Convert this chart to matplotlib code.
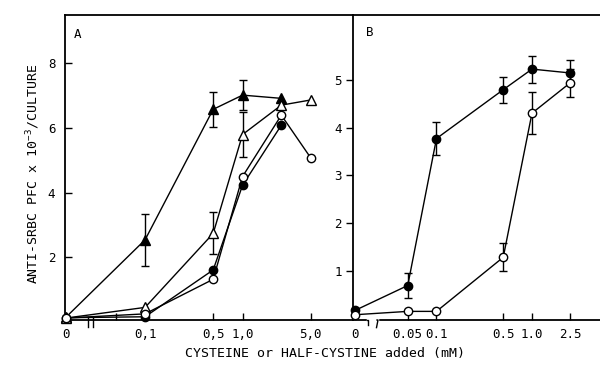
import numpy as np
import matplotlib
matplotlib.use('Agg')
import matplotlib.pyplot as plt

plt.rcParams['font.family'] = ['DejaVu Sans Mono']
plt.rcParams['mathtext.default'] = 'regular'

# ---- data ----
# panel A
conc_a = [0, 0.1, 0.5, 1.0, 2.5, 5.0]
filltri_a = [0.15, 2.54, 6.58, 7.02, 6.92]
filltri_a_err = [0, 0.81, 0.55, 0.47, 0]
opentri_a = [0.12, 0.45, 2.74, 5.80, 6.71, 6.87]
opentri_a_err = [0, 0, 0.65, 0.70, 0, 0]
opencirc_a = [0.12, 0.25, 1.32, 4.50, 6.40, 5.08]
fillcirc_a = [0.13, 0.16, 1.61, 4.23, 6.09]

# panel B
conc_b = [0, 0.05, 0.1, 0.5, 1.0, 2.5]
fill_b = [0.18, 0.70, 3.77, 4.79, 5.22, 5.14]
fill_b_err = [0, 0.26, 0.34, 0.27, 0.28, 0.26]
open_b = [0.09, 0.16, 0.16, 1.29, 4.30, 4.93]
open_b_err = [0, 0, 0, 0.29, 0.44, 0.29]

xticks_a = [0, 0.05, 0.1, 0.5, 1.0, 5.0]
xticklabels_a = ['0', '', '0,1', '0,5', '1,0', '5,0']
xticks_b = [0, 0.05, 0.1, 0.5, 1.0, 2.5]
xticklabels_b = ['0', '0.05', '0.1', '0.5', '1.0', '2.5']


# log axis with the zero dose squeezed in on the left
def broken_log(zero):
    T = 0.02
    lt = np.log10(T)

    def fwd(x):
        x = np.asarray(x, float)
        return np.where(x >= T, np.log10(np.clip(x, T, None)),
                        zero + x / T * (lt - zero))

    def inv(y):
        y = np.asarray(y, float)
        return np.where(y >= lt, 10.0 ** y, (y - zero) / (lt - zero) * T)
    return fwd, inv


fig = plt.figure(figsize=(6, 3.71), dpi=100)
bot = 1 - 320 / 371.
top = 1 - 15 / 371.
axA = fig.add_axes([65 / 600., bot, 288 / 600., top - bot])
axB = fig.add_axes([353 / 600., bot, 247 / 600., top - bot])

lw = 1.0
fs = 9
ekw = dict(fmt='none', ecolor='k', elinewidth=1.0, capsize=2.8, capthick=1.0, zorder=2)


def plot_series(ax, x, y, err, marker, filled, ms):
    x = np.asarray(x[:len(y)], float)
    y = np.asarray(y, float)
    err = np.asarray(err, float)
    m = err > 0
    ax.errorbar(x[m], y[m], yerr=err[m], **ekw)
    ax.plot(x, y, color='k', lw=lw, marker=marker, ms=ms,
            mfc='k' if filled else 'white', mec='k', mew=1.0, zorder=3,
            clip_on=False)


# ---- panel A ----
fA, iA = broken_log(-1.81)
axA.set_xscale('function', functions=(fA, iA))
axA.set_xlim(float(iA(-1.821)), float(iA(1.133)))
axA.set_ylim(0.06, 9.5)
plot_series(axA, conc_a, filltri_a, filltri_a_err, '^', True, 7)
plot_series(axA, conc_a, opentri_a, opentri_a_err, '^', False, 7)
plot_series(axA, conc_a, fillcirc_a, [0] * 5, 'o', True, 6)
plot_series(axA, conc_a, opencirc_a, [0] * 6, 'o', False, 6)
axA.set_yticks([2, 4, 6, 8])
axA.set_xticks(xticks_a)
axA.set_xticklabels(xticklabels_a)
axA.tick_params(axis='both', direction='in', length=5, width=1.0,
                labelsize=fs)
axA.tick_params(axis='x', pad=6)
axA.tick_params(axis='y', pad=7)
axA.xaxis.get_major_ticks()[0].tick1line.set_visible(False)
axA.spines['right'].set_visible(False)
axA.text(13 / 288., 1 - 20 / 305., 'A', transform=axA.transAxes,
         ha='center', va='center', fontsize=fs)

# ---- panel B ----
fB, iB = broken_log(-1.853)
axB.set_xscale('function', functions=(fB, iB))
axB.set_xlim(float(iB(-1.874)), float(iB(0.712)))
axB.set_ylim(-0.02, 6.35)
plot_series(axB, conc_b, fill_b, fill_b_err, 'o', True, 6)
plot_series(axB, conc_b, open_b, open_b_err, 'o', False, 6)
axB.set_yticks([1, 2, 3, 4, 5])
axB.set_xticks(xticks_b)
axB.set_xticklabels(xticklabels_b)
axB.tick_params(axis='x', direction='in', length=5, width=1.0,
                labelsize=fs, pad=6)
axB.tick_params(axis='y', direction='out', length=5, width=1.0,
                labelsize=fs, pad=3)
axB.xaxis.get_major_ticks()[0].tick1line.set_visible(False)
axB.spines['right'].set_visible(False)
axB.text(17 / 247., 1 - 18 / 305., 'B', transform=axB.transAxes,
         ha='center', va='center', fontsize=fs)

for ax in (axA, axB):
    for s in ax.spines.values():
        s.set_linewidth(1.3)

# axis break marks
axA.plot([23 / 288., 23 / 288.], [0.01, -0.023], color='k', lw=1.0,
         transform=axA.transAxes, clip_on=False)
axA.plot([28 / 288., 28 / 288.], [0.01, -0.023], color='k', lw=1.0,
         transform=axA.transAxes, clip_on=False)
axB.plot([15 / 247., 24 / 247.], [0, 0], color='white', lw=2.5,
         transform=axB.transAxes, clip_on=False, zorder=5)
axB.plot([14 / 247., 15 / 247., 15 / 247.], [0, 0, -0.016], color='k',
         lw=1.0, transform=axB.transAxes, clip_on=False, zorder=6)
axB.plot([24 / 247., 25 / 247., 23.5 / 247.], [0, 0, -0.025], color='k',
         lw=1.0, transform=axB.transAxes, clip_on=False, zorder=6)

fig.text(325 / 600., 1 - 353 / 371., 'CYSTEINE or HALF-CYSTINE added (mM)',
         ha='center', va='center', fontsize=fs + 0.5)
fig.text(33 / 600., 1 - 174 / 371., 'ANTI-SRBC PFC x 10$^{-3}$/CULTURE',
         ha='center', va='center', rotation=90, fontsize=fs + 0.5)

plt.savefig('out.png', dpi=100)
